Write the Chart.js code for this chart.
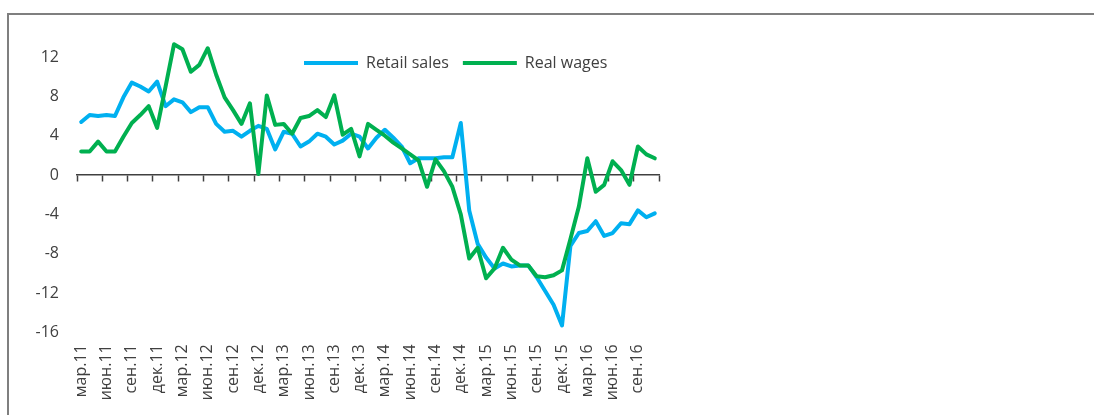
<!DOCTYPE html>
<html><head><meta charset="utf-8">
<script src="https://cdn.jsdelivr.net/npm/chart.js@4.4.1/dist/chart.umd.min.js"></script>
<style>
html,body{margin:0;padding:0;background:#fff;overflow:hidden;width:1094px;height:415px;}
#frame{position:absolute;left:7px;top:13px;width:1200px;height:500px;border:2px solid #7f7f7f;box-sizing:border-box;}
#c{position:absolute;left:0;top:0;}
</style></head><body>
<div id="frame"></div>
<canvas id="c" width="1094" height="415"></canvas>
<script>
const categories = [
  'мар.11','апр.11','май.11','июн.11','июл.11','авг.11','сен.11','окт.11','ноя.11','дек.11',
  'янв.12','фев.12','мар.12','апр.12','май.12','июн.12','июл.12','авг.12','сен.12','окт.12','ноя.12','дек.12',
  'янв.13','фев.13','мар.13','апр.13','май.13','июн.13','июл.13','авг.13','сен.13','окт.13','ноя.13','дек.13',
  'янв.14','фев.14','мар.14','апр.14','май.14','июн.14','июл.14','авг.14','сен.14','окт.14','ноя.14','дек.14',
  'янв.15','фев.15','мар.15','апр.15','май.15','июн.15','июл.15','авг.15','сен.15','окт.15','ноя.15','дек.15',
  'янв.16','фев.16','мар.16','апр.16','май.16','июн.16','июл.16','авг.16','сен.16','окт.16','ноя.16'
];
const retailSales = [
  5.4, 6.1, 6.0, 6.1, 6.0, 7.9, 9.4, 9.0, 8.5, 9.5,
  7.0, 7.7, 7.4, 6.4, 6.9, 6.9, 5.2, 4.4, 4.5, 3.9, 4.5, 5.0,
  4.7, 2.6, 4.4, 4.2, 2.9, 3.4, 4.2, 3.9, 3.1, 3.5, 4.2, 3.9,
  2.7, 3.8, 4.6, 3.8, 2.9, 1.2, 1.7, 1.7, 1.7, 1.8, 1.8, 5.3,
  -3.6, -7.0, -8.4, -9.5, -9.0, -9.3, -9.2, -9.2, -10.4, -11.8, -13.2, -15.3,
  -7.2, -5.9, -5.7, -4.7, -6.2, -5.9, -4.9, -5.0, -3.6, -4.3, -3.9
];
const realWages = [
  2.4, 2.4, 3.4, 2.4, 2.4, 3.9, 5.3, 6.1, 7.0, 4.8,
  9.0, 13.3, 12.8, 10.5, 11.2, 12.9, 10.2, 7.9, 6.6, 5.2, 7.3, 0.1,
  8.1, 5.1, 5.2, 4.2, 5.8, 6.0, 6.6, 5.9, 8.1, 4.1, 4.7, 1.9,
  5.2, 4.6, 4.0, 3.3, 2.7, 2.1, 1.5, -1.2, 1.6, 0.4, -1.2, -4.0,
  -8.5, -7.4, -10.5, -9.5, -7.4, -8.6, -9.2, -9.2, -10.3, -10.4, -10.2, -9.7,
  -6.5, -3.2, 1.7, -1.7, -1.0, 1.4, 0.5, -1.0, 2.9, 2.1, 1.7
];
const seriesNames = ['Retail sales', 'Real wages'];
const yTicks = [-16, -12, -8, -4, 0, 4, 8, 12];

const FONT = 'Open Sans';
const TEXT = '#404040';
const AXIS = '#404040';

const legendPlace = {
  id: 'legendPlace',
  afterLayout(chart) {
    const lg = chart.legend;
    if (!lg) return;
    const h = lg.height;
    lg.left = 290; lg.right = 290 + 400;
    lg.top = 41; lg.bottom = 41 + h;
  }
};

new Chart(document.getElementById('c'), {
  type: 'line',
  data: {
    labels: categories,
    datasets: [
      { label: seriesNames[0], data: retailSales, borderColor: '#00B0F0', backgroundColor: '#00B0F0',
        borderWidth: 4, pointRadius: 0, pointHoverRadius: 0, tension: 0, fill: false,
        borderJoinStyle: 'round', borderCapStyle: 'round', order: 1 },
      { label: seriesNames[1], data: realWages, borderColor: '#00B050', backgroundColor: '#00B050',
        borderWidth: 4, pointRadius: 0, pointHoverRadius: 0, tension: 0, fill: false,
        borderJoinStyle: 'round', borderCapStyle: 'round', order: 0 }
    ]
  },
  plugins: [legendPlace],
  options: {
    responsive: false,
    animation: false,
    events: [],
    layout: { padding: { left: 0, top: 0, right: 435, bottom: 0 } },
    plugins: {
      tooltip: { enabled: false },
      title: { display: false },
      legend: {
        display: true,
        position: 'top',
        align: 'start',
        maxHeight: 37.4,
        labels: {
          usePointStyle: true,
          pointStyle: 'line',
          pointStyleWidth: 54,
          padding: 14,
          color: TEXT,
          font: { family: FONT, size: 16 },
          sort: (a, b) => a.datasetIndex - b.datasetIndex
        }
      }
    },
    scales: {
      x: {
        type: 'category',
        position: 'bottom',
        offset: true,
        grid: { display: false, drawTicks: false },
        border: { display: false },
        ticks: {
          autoSkip: false, maxRotation: 90, minRotation: 90, padding: 12,
          color: TEXT, font: { family: FONT, size: 16 },
          callback: function (v, i) { return i % 3 === 0 ? this.getLabelForValue(v) : ''; }
        },
        afterFit(s) { s.height = 82.7; }
      },
      x0: {
        type: 'category',
        axis: 'x',
        labels: categories,
        position: { y: 0 },
        offset: true,
        grid: {
          display: true, drawOnChartArea: false, drawTicks: true, tickLength: 6, offset: true,
          tickWidth: 1.5,
          tickColor: (ctx) => (ctx.type !== 'tick' || ctx.index % 3 === 0) ? AXIS : 'rgba(0,0,0,0)'
        },
        border: { display: true, color: AXIS, width: 1.5 },
        ticks: { display: false, autoSkip: false }
      },
      y: {
        type: 'linear',
        min: -16, max: 14,
        afterBuildTicks(s) { s.ticks = yTicks.map(v => ({ value: v })); },
        grid: { display: false, drawTicks: false },
        border: { display: false },
        ticks: { padding: 18, color: TEXT, font: { family: FONT, size: 16 } },
        afterFit(s) { s.width = 77; }
      }
    }
  }
});
</script>
</body></html>
